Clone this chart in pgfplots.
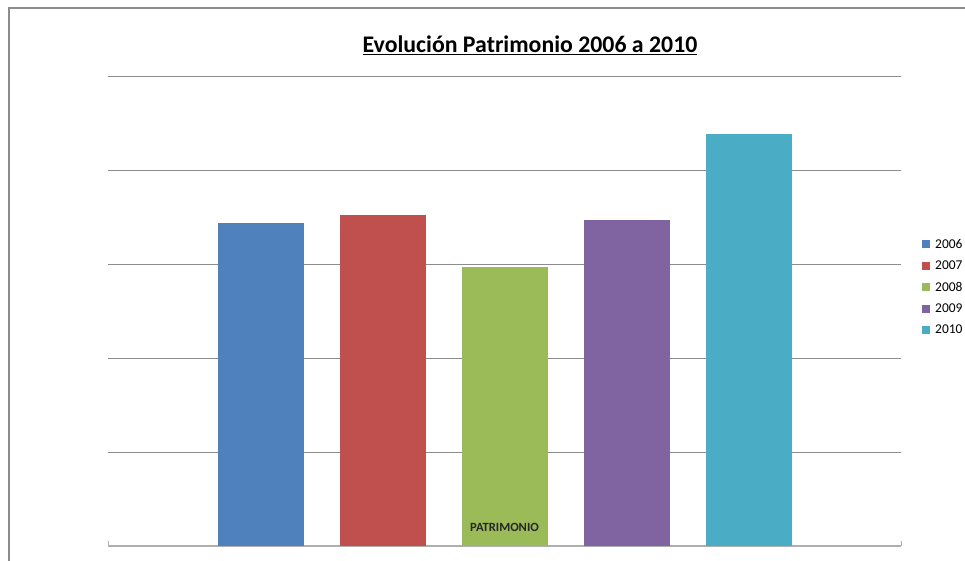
\documentclass[border=0pt]{standalone}
\usepackage{fontspec}
\setmainfont{Carlito}
\usepackage{pgfplots}
\pgfplotsset{compat=1.18}
\definecolor{c06}{HTML}{4F81BD}
\definecolor{c07}{HTML}{C0504D}
\definecolor{c08}{HTML}{9BBB59}
\definecolor{c09}{HTML}{8064A2}
\definecolor{c10}{HTML}{4BACC6}
\definecolor{gridc}{HTML}{8C8C8C}
\begin{document}
\begin{tikzpicture}[x=1bp,y=1bp]
\path[use as bounding box] (0,0) rectangle (965,561);
\draw[gridc, line width=1.2bp] (9,0) -- (9,553) -- (965,553);
\node[font=\fontsize{23.9}{26}\selectfont\bfseries, anchor=base] at (530,508) {\underline{Evolución Patrimonio 2006 a 2010}};
\begin{axis}[
  at={(108bp,15bp)}, anchor=south west,
  width=793bp, height=470bp, scale only axis,
  xmin=-0.5, xmax=0.5, ymin=0, ymax=5,
  ybar=36bp, bar width=86bp,
  axis x line*=bottom, axis y line*=left,
  x axis line style={draw=gridc!70, line width=1.5bp},
  y axis line style={draw=none},
  ymajorgrids, grid style={gridc, line width=0.8bp},
  ytick={1,2,3,4,5}, yticklabels={},
  xtick=\empty,
  major tick length=0pt,
  extra x ticks={-0.5,0.5}, extra x tick labels={},
  extra x tick style={major tick length=5bp, tick align=inside, tick style={gridc!70, line width=1bp}},
  every axis plot/.append style={draw=none},
  legend style={at={(1.0265,0.551)}, anchor=west, draw=none, fill=none,
    font=\fontsize{13.5}{15}\selectfont, row sep=7bp, inner sep=0pt,
    legend cell align=left},
  legend image code/.code={\fill[#1] (0bp,-4bp) rectangle (8bp,4bp); \path (11bp,0bp);},
]
\addplot[fill=c06] coordinates {(0,3.436)};
\addplot[fill=c07] coordinates {(0,3.521)};
\addplot[fill=c08] coordinates {(0,2.968)};
\addplot[fill=c09] coordinates {(0,3.468)};
\addplot[fill=c10] coordinates {(0,4.383)};
\legend{2006,2007,2008,2009,2010}
\node[font=\fontsize{12.6}{14}\selectfont\bfseries, text=black!85, anchor=base] at (axis cs:0,0) [yshift=14bp] {PATRIMONIO};
\end{axis}
\end{tikzpicture}
\end{document}
